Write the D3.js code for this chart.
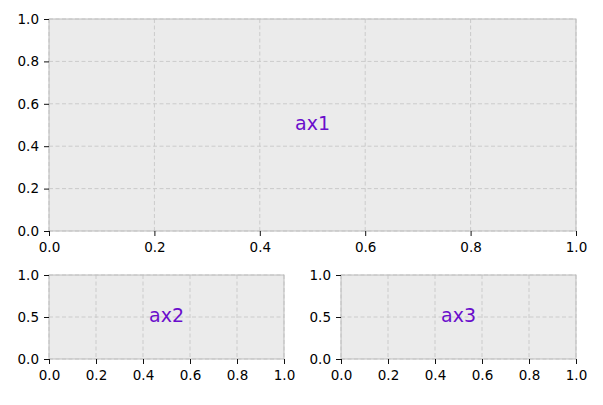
<!DOCTYPE html>
<html>
<head>
<meta charset="utf-8">
<script src="https://cdn.jsdelivr.net/npm/d3@7"></script>
<style>
  body { margin: 0; background: #fff; }
  svg text { font-family: "DejaVu Sans", sans-serif; }
</style>
</head>
<body>
<div id="chart"></div>
<script>
var W = 603, H = 405;

// panels: label, x/y tick values
var panelNames = ["ax1", "ax2", "ax3"];
var ax1Ticks = [0, 0.2, 0.4, 0.6, 0.8, 1.0];
var ax1YTicks = [0, 0.2, 0.4, 0.6, 0.8, 1.0];
var smallXTicks = [0, 0.2, 0.4, 0.6, 0.8, 1.0];
var smallYTicks = [0, 0.5, 1.0];
var domain = [0, 1];

// pixel boxes [left, top, right, bottom]
var boxes = [
    [49, 19, 576, 231],
    [49, 275, 284, 359],
    [341, 275, 576, 359]
];
var xTickSets = [ax1Ticks, smallXTicks, smallXTicks];
var yTickSets = [ax1YTicks, smallYTicks, smallYTicks];

var svg = d3.select("#chart").append("svg")
    .attr("width", W)
    .attr("height", H);

panelNames.forEach(function(name, i) {
    var b = boxes[i];
    var x = d3.scaleLinear().domain(domain).range([b[0], b[2]]);
    var y = d3.scaleLinear().domain(domain).range([b[3], b[1]]);
    var g = svg.append("g");

    g.append("rect")
        .attr("x", b[0]).attr("y", b[1])
        .attr("width", b[2] - b[0]).attr("height", b[3] - b[1])
        .attr("fill", "#ebebeb");

    // grid
    g.selectAll(".gx").data(xTickSets[i]).enter().append("line")
        .attr("x1", function(d) { return x(d); }).attr("x2", function(d) { return x(d); })
        .attr("y1", b[1]).attr("y2", b[3])
        .attr("stroke", "#cbcbcb").attr("stroke-width", 1)
        .attr("stroke-dasharray", "4,2.5");
    g.selectAll(".gy").data(yTickSets[i]).enter().append("line")
        .attr("y1", function(d) { return y(d); }).attr("y2", function(d) { return y(d); })
        .attr("x1", b[0]).attr("x2", b[2])
        .attr("stroke", "#cbcbcb").attr("stroke-width", 1)
        .attr("stroke-dasharray", "4,2.5");

    // spines
    g.append("rect")
        .attr("x", b[0]).attr("y", b[1])
        .attr("width", b[2] - b[0]).attr("height", b[3] - b[1])
        .attr("fill", "none").attr("stroke", "#bdbdbd").attr("stroke-width", 1);

    var xAxis = g.append("g")
        .attr("transform", "translate(0," + b[3] + ")")
        .call(d3.axisBottom(x).tickValues(xTickSets[i]).tickFormat(d3.format(".1f"))
            .tickSizeInner(5).tickSizeOuter(0).tickPadding(6));
    var yAxis = g.append("g")
        .attr("transform", "translate(" + b[0] + ",0)")
        .call(d3.axisLeft(y).tickValues(yTickSets[i]).tickFormat(d3.format(".1f"))
            .tickSizeInner(5).tickSizeOuter(0).tickPadding(5));

    [xAxis, yAxis].forEach(function(a) {
        a.attr("font-size", null).attr("font-family", null);
        a.select(".domain").remove();
        a.selectAll("line").attr("stroke", "#111");
        a.selectAll("text").style("font-size", "13.5px").attr("fill", "#000");
    });

    g.append("text")
        .attr("x", x(0.5)).attr("y", y(0.5) - 2)
        .attr("text-anchor", "middle")
        .attr("dominant-baseline", "central")
        .style("font-size", "19px")
        .attr("fill", "#6a0dcc")
        .text(name);
});
</script>
</body>
</html>
